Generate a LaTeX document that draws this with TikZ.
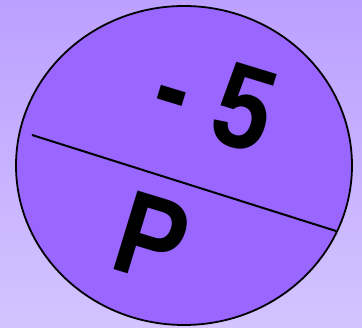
\documentclass[tikz,border=0pt]{standalone}
\usepackage{fontspec}
\setmainfont{Liberation Sans}
\usepackage{tikz}
\usetikzlibrary{positioning, shapes.geometric}
\definecolor{bgtop}{HTML}{BBA0FF}
\definecolor{bgbottom}{HTML}{D3C4FF}
\definecolor{discfill}{HTML}{9966FF}
\tikzset{
	disc/.style={draw, ellipse, line width=1.8pt, fill=discfill, inner sep=0pt},
	bigtext/.style={inner sep=0pt, rotate=-17, yscale=1.17, font=\fontsize{102}{102}\selectfont\bfseries},
	divider/.style={line width=2pt},
}
\begin{document}
\begin{tikzpicture}[x=1pt, y=-1pt]
	% background
	\shade[top color=bgtop, bottom color=bgbottom] (0,0) rectangle (362,328);
	\useasboundingbox (0,0) rectangle (362,328);

	% the disc
	\node[disc, minimum width=336pt, minimum height=319pt] (coin) at (184,165.5) {};

	% divider
	\coordinate (divL) at (32,135);
	\coordinate (divR) at (336,231);
	\draw[divider] (divL) -- (divR);

	% labels
	\node[bigtext] (exp) at (215,99) {- 5};
	\node[bigtext] (sym) at (152,238) {P};
\end{tikzpicture}
\end{document}
